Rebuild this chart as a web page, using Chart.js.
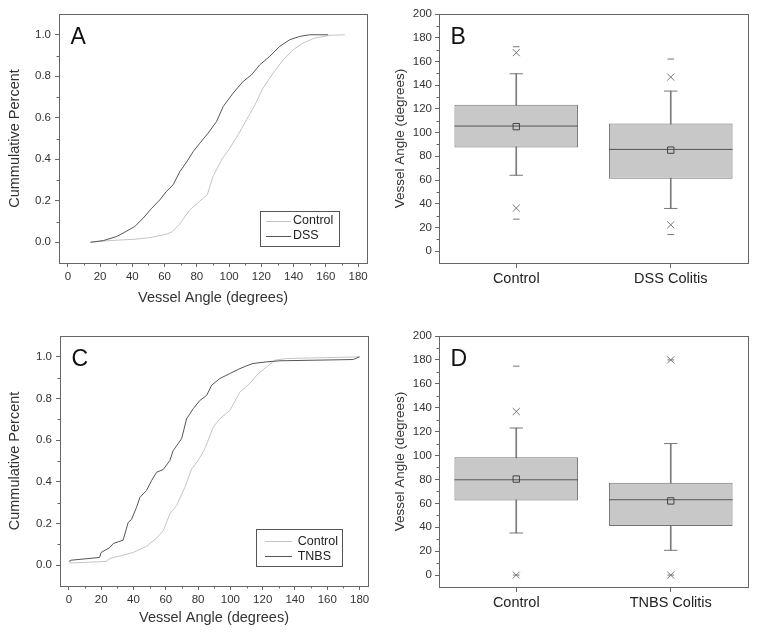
<!DOCTYPE html>
<html><head><meta charset="utf-8">
<script src="https://cdn.jsdelivr.net/npm/chart.js@4/dist/chart.umd.min.js"></script>
<style>
html,body{margin:0;padding:0;background:#fff;}
#wrap{position:relative;width:757px;height:638px;overflow:hidden;}
canvas{position:absolute;}
</style></head><body>
<div id="wrap">
<canvas id="cA" width="378" height="318" style="left:0;top:0"></canvas>
<canvas id="cB" width="379" height="318" style="left:378px;top:0"></canvas>
<canvas id="cC" width="378" height="318" style="left:0;top:320px"></canvas>
<canvas id="cD" width="379" height="318" style="left:378px;top:320px"></canvas>
</div>
<script>
// ================= DATA =================
const cdfTicksX = [0, 20, 40, 60, 80, 100, 120, 140, 160, 180];
const cdfTicksY = [0, 0.2, 0.4, 0.6, 0.8, 1.0];
const boxTicksY = [0, 20, 40, 60, 80, 100, 120, 140, 160, 180, 200];

// Panel A: cumulative distributions
const aControlAngle = [14, 26, 40.5, 50.8, 61, 64.3, 69.4, 75.6, 81.8, 86.4, 90, 95.3, 100.4, 105.6, 110.8, 116, 121, 127.3, 133.5, 139.7, 145.9, 153, 162.4, 171.7];
const aControlCum   = [0, 0.008, 0.014, 0.022, 0.039, 0.048, 0.088, 0.156, 0.198, 0.228, 0.317, 0.397, 0.453, 0.518, 0.59, 0.662, 0.743, 0.815, 0.879, 0.928, 0.96, 0.984, 0.997, 1.0];
const aDssAngle = [14, 22, 30, 35, 41.5, 46.7, 52, 57, 61, 65.3, 69.4, 73.6, 77.7, 81.8, 87, 92.2, 96.3, 102.5, 108.7, 113.9, 119, 125.2, 131.4, 137.6, 143.8, 150, 161.4];
const aDssCum   = [0, 0.008, 0.027, 0.047, 0.076, 0.116, 0.164, 0.204, 0.244, 0.277, 0.34, 0.386, 0.437, 0.477, 0.526, 0.582, 0.654, 0.719, 0.775, 0.807, 0.855, 0.896, 0.944, 0.976, 0.992, 1.0, 1.0];

// Panel C: cumulative distributions
const cControlAngle = [0, 8.9, 23, 26, 33.6, 39.8, 48, 54.3, 58.4, 62.5, 66.7, 71.8, 76, 80, 84.2, 89.4, 93.5, 99.7, 105.9, 112, 117.3, 122.5, 127.6, 134.8, 163.7, 180];
const cControlCum   = [0.01, 0.013, 0.018, 0.034, 0.048, 0.061, 0.09, 0.13, 0.165, 0.246, 0.286, 0.374, 0.462, 0.502, 0.559, 0.663, 0.703, 0.743, 0.831, 0.872, 0.92, 0.952, 0.984, 0.992, 0.997, 1.0];
const cTnbsAngle = [0, 1.6, 19, 20, 25.4, 27.5, 33.6, 36.7, 38.8, 41.9, 44, 48, 51.2, 54.3, 58.4, 62.5, 64.6, 69.8, 72.9, 77, 81, 85.3, 88.4, 93.5, 99.7, 104.9, 110, 114, 122.5, 130.7, 176, 180];
const cTnbsCum   = [0.018, 0.024, 0.037, 0.061, 0.085, 0.104, 0.12, 0.205, 0.22, 0.278, 0.326, 0.358, 0.406, 0.446, 0.459, 0.502, 0.55, 0.607, 0.703, 0.751, 0.79, 0.815, 0.864, 0.896, 0.92, 0.94, 0.957, 0.968, 0.976, 0.981, 0.987, 1.0];

// Panel B: box statistics
const bCategories = ['Control', 'DSS Colitis'];
const bQ1 = [87.5, 61];
const bQ3 = [123.5, 107.7];
const bMedian = [105.5, 85.8];
const bMean = [105, 85.2];
const bWhiskerLow = [64, 36];
const bWhiskerHigh = [149.6, 135];
const bP1 = [36.3, 22.2];
const bP99 = [167.4, 146.8];
const bMin = [27, 14];
const bMax = [172.4, 162];

// Panel D: box statistics
const dCategories = ['Control', 'TNBS Colitis'];
const dQ1 = [62.4, 41.1];
const dQ3 = [98.5, 77.2];
const dMedian = [79.7, 63];
const dMean = [80.3, 62];
const dWhiskerLow = [35.2, 20.7];
const dWhiskerHigh = [123, 110];
const dP1 = [0, 0];
const dP99 = [136.8, 180];
const dMin = [0, 0];
const dMax = [174.8, 180];

// ================= RENDERING =================
const FONT = "'Liberation Sans', Arial, Helvetica, sans-serif";
Chart.defaults.font.family = FONT;
Chart.defaults.color = '#333';
const AXIS = '#666';
const LIGHT = '#c4c4c4';
const DARK = '#555';

const framePlugin = {
  id: 'frame',
  afterDraw(chart, args, o) {
    const {ctx, chartArea: a} = chart;
    ctx.save();
    ctx.strokeStyle = AXIS;
    ctx.lineWidth = 1;
    ctx.strokeRect(Math.round(a.left) + 0.5, Math.round(a.top) + 0.5,
                   Math.round(a.right) - Math.round(a.left), Math.round(a.bottom) - Math.round(a.top));
    // minor ticks
    if (o.minorX) {
      const s = chart.scales.x;
      ctx.beginPath();
      for (let v = o.minorX[0]; v <= o.minorX[1] + 1e-9; v += o.minorX[2]) {
        const px = Math.round(s.getPixelForValue(v)) + 0.5;
        ctx.moveTo(px, Math.round(a.bottom));
        ctx.lineTo(px, Math.round(a.bottom) + 2.5);
      }
      ctx.stroke();
    }
    if (o.minorY) {
      const s = chart.scales.y;
      ctx.beginPath();
      for (let v = o.minorY[0]; v <= o.minorY[1] + 1e-9; v += o.minorY[2]) {
        const py = Math.round(s.getPixelForValue(v)) + 0.5;
        ctx.moveTo(Math.round(a.left) - 2.5, py);
        ctx.lineTo(Math.round(a.left), py);
      }
      ctx.stroke();
    }
    // panel letter
    if (o.letter) {
      ctx.fillStyle = '#111';
      ctx.font = `23px ${FONT}`;
      ctx.textBaseline = 'alphabetic';
      ctx.textAlign = 'left';
      ctx.fillText(o.letter, a.left + 11.5, a.top + 29.5);
    }
    // legend
    if (o.legend) {
      const L = o.legend;
      ctx.font = `12.5px ${FONT}`;
      const items = chart.data.datasets.map(d => ({text: d.label, color: d.borderColor}));
      const tw = Math.max(...items.map(it => ctx.measureText(it.text).width));
      const w = L.textX + tw + L.padR;
      const x0 = Math.round(a.right - L.right - w);
      const y0 = Math.round(a.bottom - L.bottom - L.h);
      ctx.strokeStyle = DARK;
      ctx.strokeRect(x0 + 0.5, y0 + 0.5, Math.round(w), Math.round(L.h));
      items.forEach((it, i) => {
        const y = y0 + L.row0 + i * 15;
        ctx.strokeStyle = it.color;
        ctx.beginPath();
        ctx.moveTo(x0 + L.lineX0, Math.round(y) + 0.5);
        ctx.lineTo(x0 + L.lineX1, Math.round(y) + 0.5);
        ctx.stroke();
        ctx.fillStyle = '#222';
        ctx.textBaseline = 'middle';
        ctx.fillText(it.text, x0 + L.textX, y + 0.5);
      });
    }
    ctx.restore();
  }
};

function makeCdf(id, letter, series, lay) {
  new Chart(document.getElementById(id), {
    type: 'scatter',
    data: {
      datasets: series.map(s => ({
        label: s.label,
        data: s.x.map((v, i) => ({x: v, y: s.y[i]})),
        showLine: true, pointRadius: 0, borderColor: s.color, borderWidth: 1,
        order: s.order, tension: 0
      }))
    },
    options: {
      responsive: false, animation: false, events: [],
      layout: {padding: {left: 0, top: lay.top, right: lay.right, bottom: 0}},
      plugins: {
        legend: {display: false}, tooltip: {enabled: false},
        frame: {letter, legend: lay.legend, minorX: [10, 170, 20], minorY: [0.1, 0.9, 0.2]}
      },
      scales: {
        x: {
          type: 'linear', min: -5.5, max: lay.xmax,
          afterBuildTicks: s => { s.ticks = cdfTicksX.map(v => ({value: v})); },
          afterFit: s => { s.height = lay.xh; },
          grid: {drawOnChartArea: false, drawTicks: true, tickLength: 4, color: AXIS},
          border: {display: true, color: AXIS},
          ticks: {font: {size: 11.5}, color: '#333', padding: 3, maxRotation: 0, autoSkip: false},
          title: {display: true, text: 'Vessel Angle (degrees)', font: {size: 14.5}, color: '#333', padding: {top: 0, bottom: 11.3}}
        },
        y: {
          type: 'linear', min: -0.1, max: 1.1,
          afterBuildTicks: s => { s.ticks = cdfTicksY.map(v => ({value: v})); },
          afterFit: s => { s.width = lay.yw; },
          grid: {drawOnChartArea: false, drawTicks: true, tickLength: 4, color: AXIS},
          border: {display: true, color: AXIS},
          ticks: {font: {size: 11.5}, color: '#333', padding: 4, callback: v => Number(v).toFixed(1)},
          title: {display: true, text: 'Cummulative Percent', font: {size: 14.5}, color: '#333', padding: {top: 6.3, bottom: 0}}
        }
      }
    },
    plugins: [framePlugin]
  });
}

function makeBox(id, letter, cats, st, lay) {
  const halfBox = ctx => {
    const s = ctx.chart.scales.x;
    return (s.width / cats.length) * 0.8 / 2;
  };
  const pts = (data, style, radius, color, extra) => Object.assign({
    type: 'line', data, showLine: false, pointStyle: style, pointRadius: radius,
    pointBorderColor: color, pointBackgroundColor: 'rgba(0,0,0,0)', pointBorderWidth: 1, order: 0
  }, extra || {});
  new Chart(document.getElementById(id), {
    type: 'bar',
    data: {
      labels: cats,
      datasets: [
        pts(st.mean, 'rect', 4.5, '#444'),
        pts(st.median, 'line', halfBox, DARK),
        pts(st.whiskerHigh, 'line', 6.7, '#777'),
        pts(st.whiskerLow, 'line', 6.7, '#777'),
        pts(st.p99, 'crossRot', 5, '#777'),
        pts(st.p1, 'crossRot', 5, '#777'),
        pts(st.max, 'line', 3.3, '#777'),
        pts(st.min, 'line', 3.3, '#777'),
        {type: 'bar', data: st.q1.map((v, i) => [v, st.q3[i]]), backgroundColor: '#c8c8c8',
         borderColor: '#737373', borderWidth: 1, borderSkipped: false,
         barPercentage: 0.8, categoryPercentage: 1, grouped: false, order: 1},
        {type: 'bar', data: st.whiskerLow.map((v, i) => [v, st.whiskerHigh[i]]), backgroundColor: '#7a7a7a',
         barThickness: 1, grouped: false, order: 2}
      ]
    },
    options: {
      responsive: false, animation: false, events: [],
      layout: {padding: {left: 0, top: lay.top, right: lay.right, bottom: 0}},
      plugins: {
        legend: {display: false}, tooltip: {enabled: false},
        frame: {letter, minorY: [10, 190, 20]}
      },
      scales: {
        x: {
          type: 'category', offset: true,
          afterFit: s => { s.height = lay.xh; },
          grid: {drawOnChartArea: false, drawTicks: true, tickLength: 5, color: AXIS, offset: false},
          border: {display: true, color: AXIS},
          ticks: {font: {size: 14.5}, color: '#222', padding: 2, maxRotation: 0, autoSkip: false}
        },
        y: {
          type: 'linear', min: -10, max: 200,
          afterBuildTicks: s => { s.ticks = boxTicksY.map(v => ({value: v})); },
          afterFit: s => { s.width = lay.yw; },
          grid: {drawOnChartArea: false, drawTicks: true, tickLength: 4, color: AXIS},
          border: {display: true, color: AXIS},
          ticks: {font: {size: 11.5}, color: '#333', padding: 3},
          title: {display: true, text: 'Vessel Angle (degrees)', font: {size: 13.5}, color: '#333', padding: {top: 13.9, bottom: 0}}
        }
      }
    },
    plugins: [framePlugin]
  });
}

makeCdf('cA', 'A', [
  {label: 'Control', x: aControlAngle, y: aControlCum, color: LIGHT, order: 1},
  {label: 'DSS', x: aDssAngle, y: aDssCum, color: DARK, order: 0}
], {top: 14, right: 11, yw: 59, xh: 55, xmax: 185.5,
    legend: {right: 28, bottom: 17, h: 35, row0: 9.5, lineX0: 6, lineX1: 31, textX: 33, padR: 6}});

makeCdf('cC', 'C', [
  {label: 'Control', x: cControlAngle, y: cControlCum, color: LIGHT, order: 1},
  {label: 'TNBS', x: cTnbsAngle, y: cTnbsCum, color: DARK, order: 0}
], {top: 16, right: 10, yw: 60, xh: 52, xmax: 185.2,
    legend: {right: 26, bottom: 20, h: 37, row0: 11.7, lineX0: 9, lineX1: 36, textX: 41.7, padR: 4}});

makeBox('cB', 'B', bCategories, {
  q1: bQ1, q3: bQ3, median: bMedian, mean: bMean, whiskerLow: bWhiskerLow, whiskerHigh: bWhiskerHigh,
  p1: bP1, p99: bP99, min: bMin, max: bMax
}, {top: 14, right: 9, yw: 61, xh: 55});

makeBox('cD', 'D', dCategories, {
  q1: dQ1, q3: dQ3, median: dMedian, mean: dMean, whiskerLow: dWhiskerLow, whiskerHigh: dWhiskerHigh,
  p1: dP1, p99: dP99, min: dMin, max: dMax
}, {top: 16, right: 9, yw: 61, xh: 51});
</script>
</body></html>
